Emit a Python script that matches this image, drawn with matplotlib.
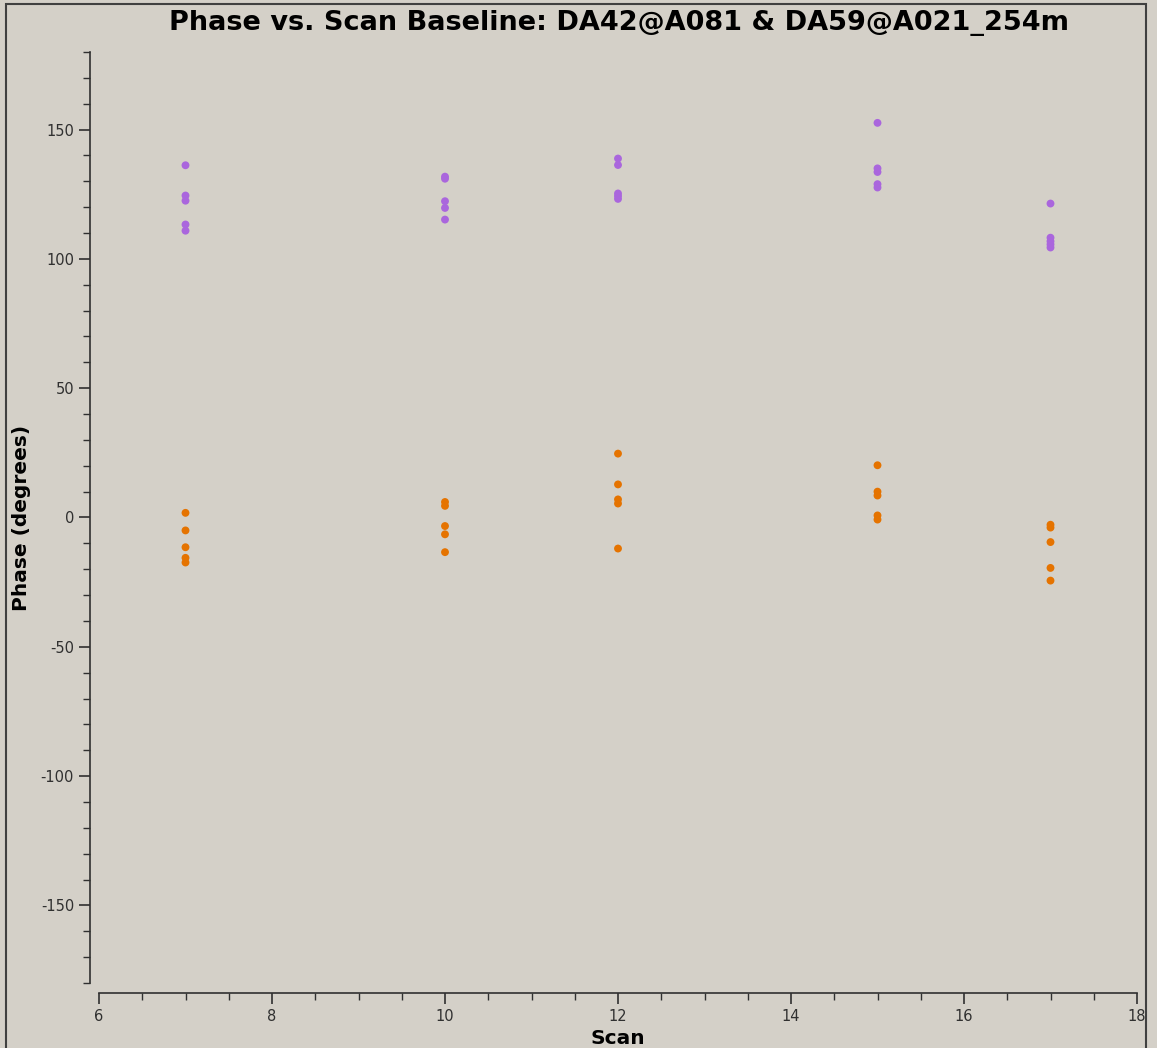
import matplotlib.pyplot as plt
from matplotlib.patches import Rectangle
from matplotlib.ticker import MultipleLocator

plt.rcParams['axes.unicode_minus'] = False

# phase per scan
scans_a = [7] * 5 + [10] * 5 + [12] * 5 + [15] * 5 + [17] * 5
phase_a = [136.2, 124.5, 122.5, 113.3, 110.9,
           131.8, 131.0, 122.3, 119.7, 115.2,
           138.8, 136.3, 125.3, 124.3, 123.2,
           152.6, 135.0, 133.6, 128.9, 127.6,
           121.4, 108.2, 106.8, 105.6, 104.4]

scans_b = [7] * 5 + [10] * 5 + [12] * 5 + [15] * 5 + [17] * 5
phase_b = [1.8, -5.0, -11.5, -15.6, -17.4,
           6.0, 4.5, -3.3, -6.5, -13.4,
           24.7, 12.8, 7.0, 5.4, -12.0,
           20.2, 10.0, 8.5, 0.8, -0.8,
           -2.8, -3.9, -9.5, -19.5, -24.4]

bg = '#d4d0c8'
fig = plt.figure(figsize=(11.57, 10.48), dpi=100, facecolor=bg)
fig.patches.append(Rectangle((6 / 1157, -0.01), 1140 / 1157, 1 - 4 / 1048 + 0.01,
                             transform=fig.transFigure, fill=False,
                             edgecolor='#404040', linewidth=1.5))

ax = fig.add_axes([99 / 1157, 1 - 983 / 1048, 1038 / 1157, 931 / 1048])
ax.set_facecolor(bg)

ax.scatter(scans_a, phase_a, s=32, color='#aa66dd', edgecolors='none', zorder=3)
ax.scatter(scans_b, phase_b, s=32, color='#e57300', edgecolors='none', zorder=3)

ax.set_xlim(6, 18)
ax.set_ylim(-180, 180)
ax.xaxis.set_major_locator(MultipleLocator(2))
ax.xaxis.set_minor_locator(MultipleLocator(0.5))
ax.yaxis.set_major_locator(MultipleLocator(50))
ax.yaxis.set_minor_locator(MultipleLocator(10))

for s in ['top', 'right']:
    ax.spines[s].set_visible(False)
ax.spines['left'].set_position(('outward', 6.5))
ax.spines['bottom'].set_position(('outward', 7))
for s in ['left', 'bottom']:
    ax.spines[s].set_color('#303030')
    ax.spines[s].set_linewidth(1.2)

ax.tick_params(which='major', length=8, width=1.2, color='#303030',
               labelsize=10.5, labelcolor='#303030')
ax.tick_params(which='minor', length=5, width=1.0, color='#303030')

fig.text(619 / 1157, 1 - 23 / 1048,
         'Phase vs. Scan Baseline: DA42@A081 & DA59@A021_254m',
         fontsize=19.5, fontweight='bold', ha='center', va='center')
ax.set_xlabel('Scan', fontsize=14.5, fontweight='bold', labelpad=4)
ax.set_ylabel('Phase (degrees)', fontsize=14.5, fontweight='bold', labelpad=7)

fig.savefig('out.png', dpi=100, facecolor=bg)
